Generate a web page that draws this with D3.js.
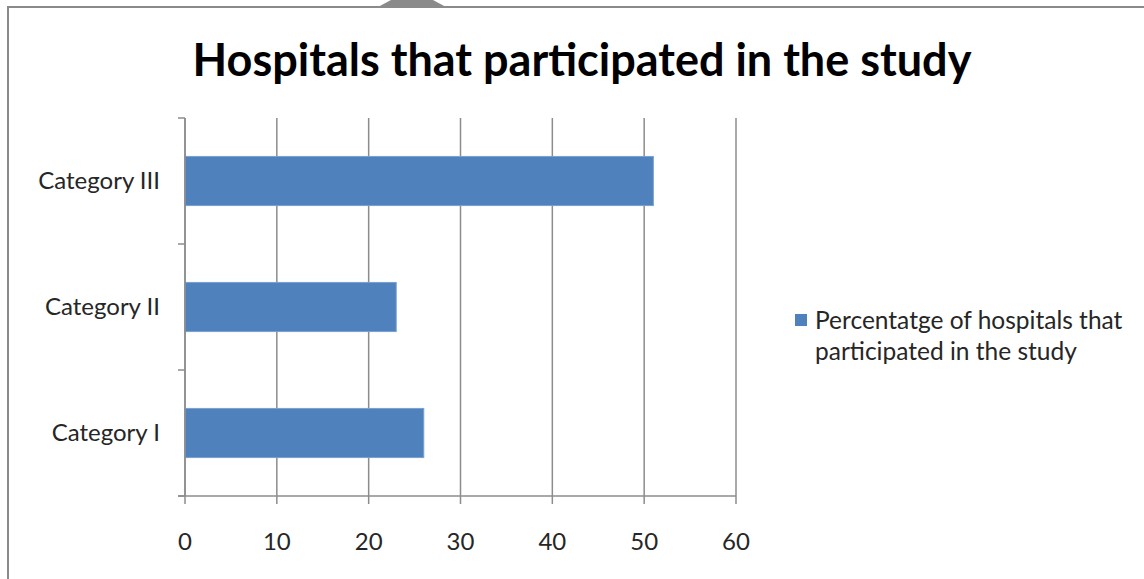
<!DOCTYPE html>
<html>
<head>
<meta charset="utf-8">
<script src="https://cdn.jsdelivr.net/npm/d3@7"></script>
<style>
  body { margin: 0; background: #fff; }
  svg { display: block; }
  text { font-family: Lato, "Open Sans", sans-serif; }
</style>
</head>
<body>
<svg width="1144" height="579"></svg>
<script>
// chart data
const categories = ['Category III', 'Category II', 'Category I'];
const values = [51, 23, 26];
const xTicks = [0, 10, 20, 30, 40, 50, 60];
const seriesName = ['Percentatge of hospitals that', 'participated in the study'];
const title = 'Hospitals that participated in the study';

const svg = d3.select('svg');
const margin = { top: 118, right: 408, bottom: 83, left: 185 };
const width = 1144 - margin.left - margin.right;
const height = 579 - margin.top - margin.bottom;
const gridColor = '#8c8c8c';
const barColor = '#4f81bd';
const labelColor = '#262626';

// outer frame + little tab at the top
svg.append('path')
  .attr('d', 'M8,579 L8,7 L1144,7')
  .attr('fill', 'none')
  .attr('stroke', '#8a8a8a')
  .attr('stroke-width', 2);
svg.append('path')
  .attr('d', 'M378,7 L391,0 L433,0 L446,7 Z')
  .attr('fill', '#8a8a8a');

// title
svg.append('text')
  .attr('x', 582)
  .attr('y', 76)
  .attr('text-anchor', 'middle')
  .style('font-size', '45px')
  .style('font-weight', 'bold')
  .style('fill', '#000')
  .text(title);

const xScale = d3.scaleLinear().domain([0, 60]).range([0, width]);
const yScale = d3.scaleBand().domain(categories).range([0, height]).padding(0);

const g = svg.append('g').attr('transform', `translate(${margin.left}, ${margin.top})`);

// vertical gridlines (extend below as tick marks)
g.selectAll('.grid')
  .data(xTicks)
  .enter()
  .append('line')
  .attr('x1', d => xScale(d))
  .attr('x2', d => xScale(d))
  .attr('y1', 0)
  .attr('y2', height + 8)
  .attr('stroke', gridColor)
  .attr('stroke-width', 1.5);

// x axis line
g.append('line')
  .attr('x1', -7).attr('x2', width)
  .attr('y1', height).attr('y2', height)
  .attr('stroke', gridColor).attr('stroke-width', 1.5);

// category tick marks (band edges)
const edges = categories.map(c => yScale(c)).concat([height]);
g.selectAll('.ytick')
  .data(edges)
  .enter()
  .append('line')
  .attr('x1', -7).attr('x2', 0)
  .attr('y1', d => d).attr('y2', d => d)
  .attr('stroke', gridColor).attr('stroke-width', 1.5);

// bars
const barH = yScale.bandwidth() * 0.39;
g.selectAll('rect.bar')
  .data(categories)
  .enter()
  .append('rect')
  .attr('class', 'bar')
  .attr('x', 0)
  .attr('y', d => yScale(d) + (yScale.bandwidth() - barH) / 2)
  .attr('width', (d, i) => xScale(values[i]))
  .attr('height', barH)
  .attr('fill', barColor)
  .attr('stroke', '#7aa0d0')
  .attr('stroke-width', 1);

// y axis line
g.append('line')
  .attr('x1', 0).attr('x2', 0)
  .attr('y1', 0).attr('y2', height)
  .attr('stroke', gridColor).attr('stroke-width', 1.5);

// tick labels
g.selectAll('.xlab')
  .data(xTicks)
  .enter()
  .append('text')
  .attr('x', d => xScale(d))
  .attr('y', height + 54)
  .attr('text-anchor', 'middle')
  .style('font-size', '24px')
  .style('fill', labelColor)
  .text(d => d);

g.selectAll('.ylab')
  .data(categories)
  .enter()
  .append('text')
  .attr('x', -25)
  .attr('y', d => yScale(d) + yScale.bandwidth() / 2 + 8)
  .attr('text-anchor', 'end')
  .style('font-size', '24px')
  .style('fill', labelColor)
  .text(d => d);

// legend
svg.append('rect')
  .attr('x', 795).attr('y', 314)
  .attr('width', 12).attr('height', 12)
  .attr('fill', barColor);
svg.append('text')
  .attr('x', 815)
  .attr('y', 329)
  .style('font-size', '24.5px')
  .style('fill', labelColor)
  .selectAll('tspan')
  .data(seriesName)
  .enter()
  .append('tspan')
  .attr('x', 815)
  .attr('dy', (d, i) => i === 0 ? 0 : 31)
  .text(d => d);
</script>
</body>
</html>
